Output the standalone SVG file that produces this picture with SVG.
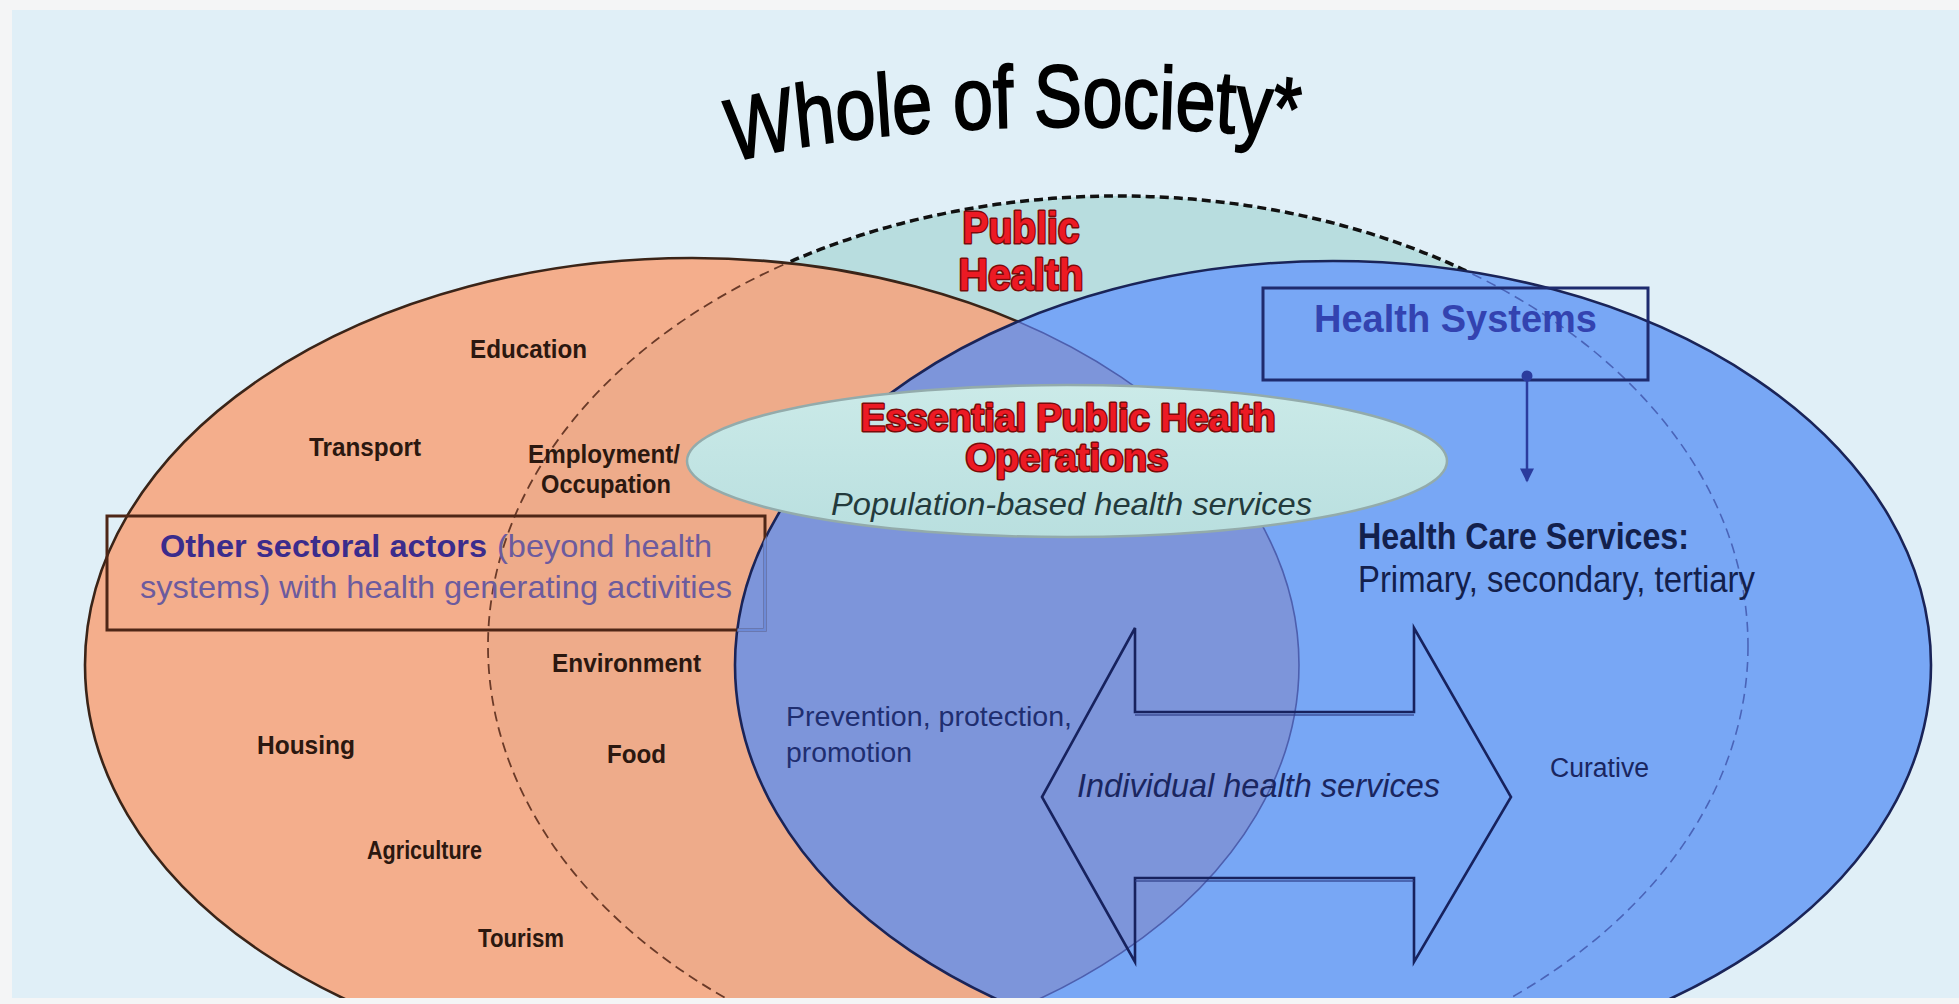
<svg xmlns="http://www.w3.org/2000/svg" xmlns:xlink="http://www.w3.org/1999/xlink" width="1959" height="1004" viewBox="0 0 1959 1004">
  <style>
    .sans { font-family: "Liberation Sans", Arial, sans-serif; }
    .sector { font-family: "Liberation Sans", Arial, sans-serif; font-weight: bold; font-size: 25px; fill: #2b1810; }
    .red { font-family: "Liberation Sans", Arial, sans-serif; font-weight: bold; fill: #ec1a24; stroke: #7a0a0a; stroke-width: 3; paint-order: stroke; stroke-linejoin: round; }
    .navy { fill: #1a2660; }
  </style>
  <defs>
    <ellipse id="eO" cx="692" cy="665" rx="607" ry="407"/>
    <ellipse id="eB" cx="1333" cy="665" rx="598" ry="404"/>
    <ellipse id="eP" cx="1118" cy="646" rx="630" ry="450"/>
    <clipPath id="cpAll"><rect x="12" y="10" width="1947" height="988"/></clipPath>
    <clipPath id="cpO"><use xlink:href="#eO"/></clipPath>
    <clipPath id="cpB"><use xlink:href="#eB"/></clipPath>
    <clipPath id="cpP"><use xlink:href="#eP"/></clipPath>
    <mask id="mOut" maskUnits="userSpaceOnUse" x="0" y="0" width="1959" height="1004">
      <rect x="0" y="0" width="1959" height="1004" fill="#fff"/>
      <use xlink:href="#eO" fill="#000"/>
      <use xlink:href="#eB" fill="#000"/>
    </mask>
    <mask id="mOnotB" maskUnits="userSpaceOnUse" x="0" y="0" width="1959" height="1004">
      <use xlink:href="#eO" fill="#fff"/>
      <use xlink:href="#eB" fill="#000"/>
    </mask>
    <mask id="mNotB" maskUnits="userSpaceOnUse" x="0" y="0" width="1959" height="1004">
      <rect x="0" y="0" width="1959" height="1004" fill="#fff"/>
      <use xlink:href="#eB" fill="#000"/>
    </mask>
    <linearGradient id="gEpho" x1="0" y1="0" x2="0" y2="1">
      <stop offset="0" stop-color="#cbeae8"/>
      <stop offset="1" stop-color="#b9dfdf"/>
    </linearGradient>
    <marker id="arrowDown" viewBox="0 0 10 10" refX="9" refY="5" markerWidth="16" markerHeight="14" markerUnits="userSpaceOnUse" orient="auto">
      <path d="M0 0 L10 5 L0 10 Z" fill="#2b3c9e"/>
    </marker>
    <!-- baseline of the arched title, laid out before horizontal compression -->
    <path id="titleArc" d="M 631 172 C 814 120 1180 115 1399 145"/>
  </defs>

  <!-- page -->
  <rect x="0" y="0" width="1959" height="1004" fill="#f4f5f6"/>
  <rect x="12" y="10" width="1947" height="988" fill="#e0eff7"/>

  <g clip-path="url(#cpAll)">
    <!-- Public Health region (dashed) -->
    <g id="public-health-area">
      <use xlink:href="#eP" fill="#b8dddf"/>
    </g>

    <!-- Other sectors (orange) -->
    <g id="other-sectors-area">
      <use xlink:href="#eO" fill="#f4ae8c"/>
      <use xlink:href="#eO" fill="#eeab8a" clip-path="url(#cpP)"/>
    </g>

    <!-- Health systems (blue) -->
    <g id="health-systems-area">
      <use xlink:href="#eB" fill="#78a7f5"/>
      <use xlink:href="#eB" fill="#7d95da" clip-path="url(#cpO)"/>
    </g>

    <!-- outlines -->
    <g id="outlines" fill="none">
      <use xlink:href="#eP" stroke="#111" stroke-width="3.5" stroke-dasharray="9 5" mask="url(#mOut)"/>
      <use xlink:href="#eP" stroke="#6a3a28" stroke-width="1.8" stroke-dasharray="10 6" mask="url(#mOnotB)"/>
      <use xlink:href="#eP" stroke="#4a64b8" stroke-width="1.6" stroke-dasharray="10 6" clip-path="url(#cpB)"/>
      <use xlink:href="#eO" stroke="#3a2418" stroke-width="2.6" mask="url(#mNotB)"/>
      <use xlink:href="#eO" stroke="#4d5fae" stroke-width="1.6" clip-path="url(#cpB)"/>
      <use xlink:href="#eB" stroke="#1a2458" stroke-width="2.6"/>
    </g>
  </g>

  <!-- Title -->
  <g id="title" transform="translate(1015 0) scale(0.82 1) translate(-1015 0)">
    <text class="sans" font-size="88" fill="#000" stroke="#000" stroke-width="2">
      <textPath xlink:href="#titleArc" startOffset="50%" text-anchor="middle">Whole of Society*</textPath>
    </text>
  </g>

  <!-- Public Health label -->
  <g id="public-health-label">
    <text class="red" font-size="44" x="1021" y="243" text-anchor="middle" textLength="117" lengthAdjust="spacingAndGlyphs">Public</text>
    <text class="red" font-size="44" x="1021" y="290" text-anchor="middle" textLength="125" lengthAdjust="spacingAndGlyphs">Health</text>
  </g>

  <!-- Other sectoral actors box -->
  <g id="other-sectors-box">
    <rect x="107" y="516" width="658" height="114" fill="none" stroke="#4e2616" stroke-width="3"/>
    <rect x="107" y="516" width="658" height="114" fill="none" stroke="#6d8ad6" stroke-width="3.2" clip-path="url(#cpB)"/>
    <text class="sans" font-size="32" y="557">
      <tspan x="160" font-weight="bold" fill="#3b2c8c" textLength="327" lengthAdjust="spacingAndGlyphs">Other sectoral actors</tspan>
      <tspan x="497" fill="#6c5b9e" textLength="215" lengthAdjust="spacingAndGlyphs">(beyond health</tspan>
    </text>
    <text class="sans" font-size="32" x="140" y="598" fill="#6c5b9e" textLength="592" lengthAdjust="spacingAndGlyphs">systems) with health generating activities</text>
  </g>

  <!-- Sector labels -->
  <g id="sector-labels">
    <text class="sector" x="470" y="358" textLength="117" lengthAdjust="spacingAndGlyphs">Education</text>
    <text class="sector" x="309" y="456" textLength="112" lengthAdjust="spacingAndGlyphs">Transport</text>
    <text class="sector" x="528" y="463" textLength="152" lengthAdjust="spacingAndGlyphs">Employment/</text>
    <text class="sector" x="541" y="493" textLength="130" lengthAdjust="spacingAndGlyphs">Occupation</text>
    <text class="sector" x="552" y="672" textLength="149" lengthAdjust="spacingAndGlyphs">Environment</text>
    <text class="sector" x="257" y="754" textLength="98" lengthAdjust="spacingAndGlyphs">Housing</text>
    <text class="sector" x="607" y="763" textLength="59" lengthAdjust="spacingAndGlyphs">Food</text>
    <text class="sector" font-size="23" x="367" y="859" textLength="115" lengthAdjust="spacingAndGlyphs">Agriculture</text>
    <text class="sector" font-size="23" x="478" y="947" textLength="86" lengthAdjust="spacingAndGlyphs">Tourism</text>
  </g>

  <!-- Essential Public Health Operations -->
  <g id="epho">
    <ellipse cx="1067" cy="461" rx="380" ry="76" fill="url(#gEpho)" stroke="#93abab" stroke-width="2.5"/>
    <text class="red" font-size="38" x="1068" y="431" text-anchor="middle" textLength="415" lengthAdjust="spacingAndGlyphs">Essential Public Health</text>
    <text class="red" font-size="38" x="1067" y="471" text-anchor="middle" textLength="203" lengthAdjust="spacingAndGlyphs">Operations</text>
    <text class="sans" font-size="32" font-style="italic" fill="#233a3c" x="831" y="515" textLength="481" lengthAdjust="spacingAndGlyphs">Population-based health services</text>
  </g>

  <!-- Health Systems box -->
  <g id="health-systems-box">
    <rect x="1263" y="288" width="385" height="92" fill="none" stroke="#1e2b6e" stroke-width="3"/>
    <text class="sans" font-size="38" font-weight="bold" fill="#3343b0" x="1314" y="332" textLength="283" lengthAdjust="spacingAndGlyphs">Health Systems</text>
  </g>

  <!-- Health care services -->
  <g id="health-care-services">
    <text class="sans" font-size="36" font-weight="bold" fill="#13204c" x="1358" y="549" textLength="331" lengthAdjust="spacingAndGlyphs">Health Care Services:</text>
    <text class="sans" font-size="36" fill="#13204c" x="1358" y="592" textLength="397" lengthAdjust="spacingAndGlyphs">Primary, secondary, tertiary</text>
  </g>

  <!-- Prevention -->
  <g id="prevention">
    <text class="sans" font-size="28" fill="#1f2e70" x="786" y="726" textLength="286" lengthAdjust="spacingAndGlyphs">Prevention, protection,</text>
    <text class="sans" font-size="28" fill="#1f2e70" x="786" y="762" textLength="126" lengthAdjust="spacingAndGlyphs">promotion</text>
  </g>

  <!-- Curative -->
  <g id="curative">
    <text class="sans navy" font-size="27" x="1550" y="777" textLength="99" lengthAdjust="spacingAndGlyphs">Curative</text>
  </g>

  <!-- Individual health services double arrow -->
  <g id="individual-services">
    <polygon points="1042,797 1135,628 1135,712 1414,712 1414,628 1511,797 1414,962 1414,878 1135,878 1135,962" fill="none" stroke="#17225e" stroke-width="2.6" stroke-linejoin="miter"/>
    <line x1="1135" y1="715" x2="1414" y2="715" stroke="#2c3c86" stroke-width="2" opacity="0.6"/>
    <line x1="1135" y1="881" x2="1414" y2="881" stroke="#2c3c86" stroke-width="2" opacity="0.6"/>
    <text class="sans navy" font-size="33" font-style="italic" x="1077" y="797" textLength="363" lengthAdjust="spacingAndGlyphs">Individual health services</text>
  </g>

  <!-- connectors -->
  <g id="connectors">
    <circle cx="1527" cy="376" r="5.5" fill="#2b3c9e"/>
    <line x1="1527" y1="376" x2="1527" y2="481" stroke="#2b3c9e" stroke-width="2.5" marker-end="url(#arrowDown)"/>
  </g>
</svg>
